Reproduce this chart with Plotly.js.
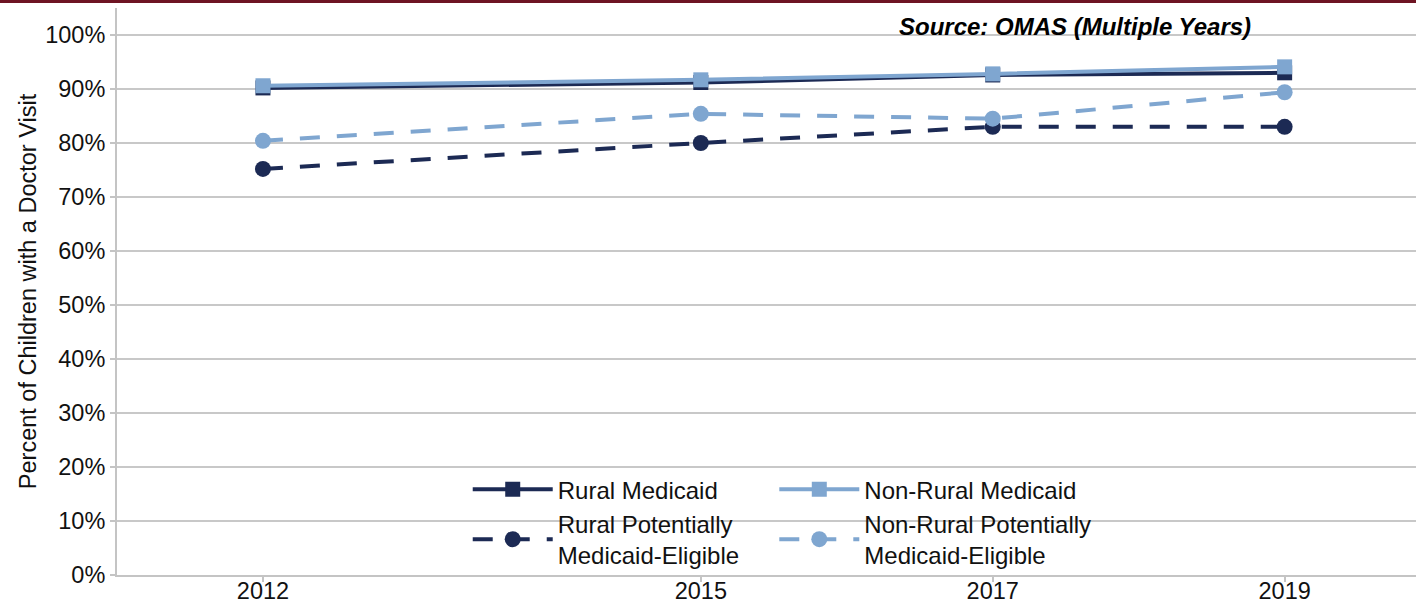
<!DOCTYPE html>
<html>
<head>
<meta charset="utf-8">
<script src="https://cdn.plot.ly/plotly-3.0.1.min.js"></script>
<style>
  html, body { margin: 0; padding: 0; background: #fff; }
  #topbar { position: absolute; left: 0; top: 0; width: 1416px; height: 3px; background: #6e1423; z-index: 10; }
  #chart { width: 1416px; height: 604px; }
</style>
</head>
<body>
<div id="topbar"></div>
<div id="chart"></div>
<script>
// Data
const years = [2012, 2015, 2017, 2019];
const ruralMedicaid = [0.902, 0.912, 0.926, 0.930];
const nonRuralMedicaid = [0.906, 0.917, 0.928, 0.941];
const ruralPotentially = [0.752, 0.800, 0.830, 0.830];
const nonRuralPotentially = [0.804, 0.854, 0.845, 0.894];

const seriesNames = ["Rural Medicaid", "Non-Rural Medicaid", "Rural Potentially<br>Medicaid-Eligible", "Non-Rural Potentially<br>Medicaid-Eligible"];
const yTickVals = [0, 0.1, 0.2, 0.3, 0.4, 0.5, 0.6, 0.7, 0.8, 0.9, 1.0];
const yTickText = ["0%", "10%", "20%", "30%", "40%", "50%", "60%", "70%", "80%", "90%", "100%"];
const sourceText = "Source: OMAS (Multiple Years)";
const yTitle = "Percent of Children with a Doctor Visit";

const dark = "#1c2a54";
const light = "#7fa6d0";
const FONT = "Liberation Sans, Arial, sans-serif";
const FS = 23.5;
const LFS = 24;

const traces = [
  { x: years, y: ruralMedicaid, name: seriesNames[0], mode: "lines+markers", legend: "legend",
    line: { color: dark, width: 4 }, marker: { symbol: "square", size: 15, color: dark } },
  { x: years, y: ruralPotentially, name: seriesNames[2], mode: "lines+markers", legend: "legend",
    line: { color: dark, width: 4, dash: "20px,17px" }, marker: { symbol: "circle", size: 16, color: dark } },
  { x: years, y: nonRuralMedicaid, name: seriesNames[1], mode: "lines+markers", legend: "legend2",
    line: { color: light, width: 4 }, marker: { symbol: "square", size: 15, color: light } },
  { x: years, y: nonRuralPotentially, name: seriesNames[3], mode: "lines+markers", legend: "legend2",
    line: { color: light, width: 4, dash: "20px,17px" }, marker: { symbol: "circle", size: 16, color: light } }
];

const legendCommon = {
  orientation: "v", xanchor: "left", yanchor: "top", y: 0.19,
  bgcolor: "rgba(0,0,0,0)", borderwidth: 0,
  font: { family: FONT, size: LFS, color: "#111" },
  itemwidth: 80, tracegroupgap: 0
};

const layout = {
  width: 1416, height: 604,
  margin: { l: 117, r: 0, t: 8, b: 29 },
  paper_bgcolor: "#fff", plot_bgcolor: "#fff",
  font: { family: FONT, size: FS, color: "#111" },
  showlegend: true,
  legend: Object.assign({}, legendCommon, { x: 0.270 }),
  legend2: Object.assign({}, legendCommon, { x: 0.506 }),
  xaxis: {
    range: [2011.0, 2019.9],
    tickvals: years, ticktext: years.map(String),
    showgrid: false, zeroline: false,
    showline: true, linecolor: "#c4c4c4", linewidth: 2,
    ticks: "outside", ticklen: 5, tickwidth: 2, tickcolor: "#c4c4c4",
    ticklabelstandoff: -11,
    tickfont: { family: FONT, size: FS, color: "#111" }
  },
  yaxis: {
    range: [0, 1.05],
    tickvals: yTickVals, ticktext: yTickText,
    showgrid: true, gridcolor: "#c8c8c8", gridwidth: 2,
    zeroline: false,
    showline: true, linecolor: "#c4c4c4", linewidth: 2,
    ticks: "outside", ticklen: 5, tickwidth: 2, tickcolor: "#c4c4c4",
    tickfont: { family: FONT, size: FS, color: "#111" },
    title: { text: yTitle, font: { family: FONT, size: FS, color: "#111" }, standoff: 2 }
  },
  annotations: [
    { xref: "paper", yref: "paper", x: (1253 - 117) / 1299, y: (575 - 26) / 567,
      xanchor: "right", yanchor: "middle", showarrow: false,
      text: "<b><i>" + sourceText + "</i></b>",
      font: { family: FONT, size: LFS, color: "#000" } }
  ]
};

Plotly.newPlot("chart", traces, layout, { displayModeBar: false, staticPlot: true });
</script>
</body>
</html>
